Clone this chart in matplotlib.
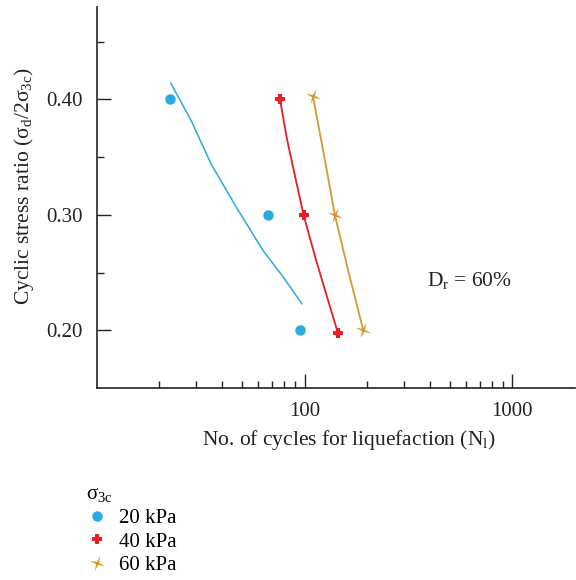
import numpy as np
import matplotlib
matplotlib.use("Agg")
import matplotlib.pyplot as plt
from matplotlib.path import Path
from matplotlib.ticker import FixedLocator, NullFormatter

plt.rcParams['font.family'] = ['Liberation Serif', 'DejaVu Serif']
plt.rcParams['mathtext.fontset'] = 'custom'
plt.rcParams['mathtext.rm'] = 'Liberation Serif'
plt.rcParams['mathtext.it'] = 'Liberation Serif:italic'

# measured points
cycles_20 = [22.6, 66.8, 95.6]
csr_20 = [0.40, 0.30, 0.20]
cycles_40 = [76.2, 98.9, 144.6]
csr_40 = [0.40, 0.30, 0.198]
cycles_60 = [109.7, 139.9, 191.8]
csr_60 = [0.403, 0.30, 0.20]

# fitted trend lines
fit_x_20 = [22.7, 28.4, 35.5, 47.9, 63.2, 79.1, 97.0]
fit_y_20 = [0.414, 0.382, 0.344, 0.304, 0.269, 0.246, 0.223]
fit_x_40 = [76.2, 82.0, 90.1, 98.9, 112.7, 128.3, 144.6]
fit_y_40 = [0.40, 0.367, 0.333, 0.30, 0.263, 0.229, 0.198]
fit_x_60 = [109.7, 123.7, 139.9, 163.6, 191.8]
fit_y_60 = [0.403, 0.353, 0.30, 0.249, 0.20]

labels = ['20 kPa', '40 kPa', '60 kPa']
colors = ['#29abe2', '#ed1c24', '#d49a2f']

# 4-point star marker, slightly tilted
a = np.linspace(0, 2 * np.pi, 9)[:-1] + np.pi / 2 - np.radians(20)
r = np.array([1.0, 0.2] * 4)
verts = np.column_stack([r * np.cos(a), r * np.sin(a)])
verts = np.vstack([verts, verts[:1]])
star4 = Path(verts, [Path.MOVETO] + [Path.LINETO] * 7 + [Path.CLOSEPOLY])

fig = plt.figure(figsize=(5.76, 5.80), dpi=100)
ax = fig.add_axes([0.168, 0.331, 0.83, 0.657])

ax.plot(fit_x_20, fit_y_20, color=colors[0], lw=1.1, solid_joinstyle='round')
ax.plot(fit_x_40, fit_y_40, color=colors[1], lw=1.3, solid_joinstyle='round')
ax.plot(fit_x_60, fit_y_60, color=colors[2], lw=1.3, solid_joinstyle='round')

ax.plot(cycles_20, csr_20, 'o', color=colors[0], ms=6.5, ls='none', label=labels[0])
ax.plot(cycles_40, csr_40, 'P', color=colors[1], ms=7.5, mew=0, ls='none', label=labels[1])
ax.plot(cycles_60, csr_60, marker=star4, color=colors[2], ms=11, mew=0, ls='none', label=labels[2])

ax.set_xscale('log')
ax.set_xlim(10, 2000)
ax.set_ylim(0.15, 0.48)
ax.set_xticks([100, 1000])
ax.set_xticklabels(['100', '1000'])
ax.xaxis.set_minor_locator(FixedLocator([m * 10 ** k for k in (1, 2) for m in range(2, 10)]))
ax.xaxis.set_minor_formatter(NullFormatter())
ax.set_yticks([0.20, 0.30, 0.40])
ax.set_yticklabels(['0.20', '0.30', '0.40'])
ax.yaxis.set_minor_locator(FixedLocator([0.25, 0.35, 0.45]))

for s in ['top', 'right']:
    ax.spines[s].set_visible(False)
for s in ['left', 'bottom']:
    ax.spines[s].set_linewidth(1.2)
    ax.spines[s].set_color('#222222')
ax.tick_params(which='major', direction='in', length=10, width=1.0, labelsize=15, pad=10, colors='#222222')
ax.tick_params(which='minor', direction='in', length=5, width=1.0, colors='#222222')

ax.set_xlabel(r'No. of cycles for liquefaction (N$_\mathrm{l}$)', fontsize=15.5, color='#222222')
ax.set_ylabel(r'Cyclic stress ratio (σ$_\mathrm{d}$/2σ$_\mathrm{3c}$)', fontsize=15.5, color='#222222')
ax.xaxis.set_label_coords(0.527, -0.105)
ax.yaxis.set_label_coords(-0.127, 0.53)

ax.text(625, 0.243, r'D$_\mathrm{r}$ = 60%', fontsize=15.5, ha='center', va='center', color='#222222')

leg = fig.legend(loc='upper left', bbox_to_anchor=(0.135, 0.178), frameon=False,
                 title=r'σ$_\mathrm{3c}$', fontsize=15, title_fontsize=15,
                 handlelength=1.0, handletextpad=0.6, labelspacing=0.2, borderaxespad=0)
leg._legend_box.align = 'left'

fig.savefig('out.png', dpi=100)
